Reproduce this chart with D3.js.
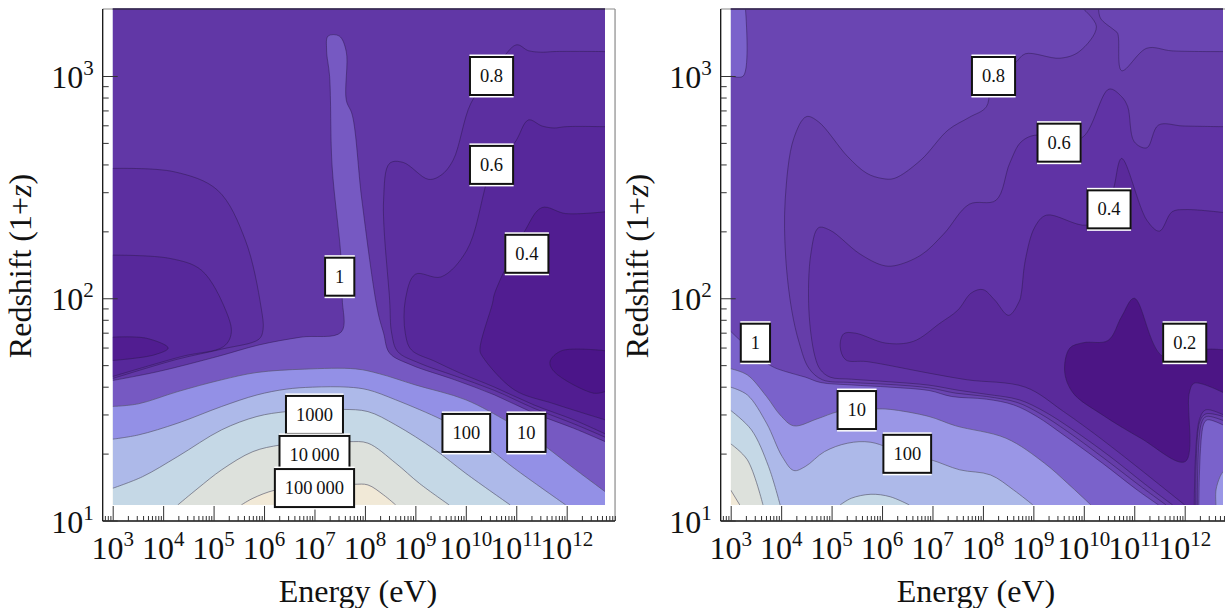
<!DOCTYPE html>
<html>
<head>
<meta charset="utf-8">
<script src="https://cdn.jsdelivr.net/npm/d3@7/dist/d3.min.js"></script>
<style>
html,body{margin:0;padding:0;background:#fff;overflow:hidden}
text{font-family:"Liberation Serif","Times New Roman",serif;fill:#111}
</style>
</head>
<body>
<script>
// All contour points are [log10 Energy(eV), log10 Redshift(1+z)].
// null = the next edge is filled but not stroked (it runs along the plot boundary).
const XMIN=3, XMAX=12.76, YMIN=1.07, YMAX=3.31;
const BR=[XMAX,YMIN], TR=[XMAX,YMAX], TL=[XMIN,YMAX], BL=[XMIN,YMIN];
const edge=(...p)=>p.flatMap(d=>[null,d,null]);

const majorX=[3,4,5,6,7,8,9,10,11,12];
const majorY=[1,2,3];
const levelNames=["100000","10000","1000","100","10","1","0.8","0.6","0.4","0.2"];

// ---------- left panel ----------
const leftBackground="#f1e9d7";
const leftColors=["#dde1dc","#c5d8e6","#adb9e9","#9390e6","#7659c2","#6137a6","#5c2fa0","#57289b","#511d91","#4b1589"];
const L1e5=[[5.55,1.07],[5.78,1.10],[6.22,1.137],[7.0,1.16],[7.78,1.163],[8.06,1.16],[8.37,1.115],[8.61,1.07],...edge(BR,TR,TL,BL)];
const L1e4=[[4.29,1.07],[4.69,1.145],[5.16,1.228],[5.78,1.31],[6.33,1.34],[7.04,1.355],[7.68,1.355],[8.06,1.348],[8.61,1.258],[9.08,1.167],[9.67,1.07],...edge(BR,TR,TL,BL)];
const L1e3=[[3,1.145],[3.59,1.197],[4.29,1.288],[5.16,1.408],[5.86,1.468],[6.44,1.49],[7.04,1.498],[7.56,1.50],[8.06,1.49],[8.61,1.43],[9.39,1.318],[10.0,1.212],[10.88,1.07],...edge(BR,TR,TL)];
const L100=[[3,1.366],[3.51,1.385],[4.29,1.438],[5.16,1.513],[5.86,1.565],[6.44,1.591],[6.96,1.60],[7.67,1.60],[8.06,1.588],[8.61,1.543],[9.53,1.453],[10.0,1.394],[10.49,1.318],[10.96,1.235],[11.98,1.07],...edge(BR,TR,TL)];
const L10=[[3,1.513],[3.51,1.525],[4.29,1.58],[5.16,1.633],[5.86,1.666],[6.80,1.681],[7.82,1.682],[8.29,1.66],[9.0,1.61],[10.0,1.543],[10.83,1.445],[11.21,1.394],[11.58,1.333],[12.14,1.235],[12.76,1.13],...edge(TR,TL)];
const L1=[[3,1.63],[3.90,1.67],[5.08,1.738],[5.90,1.79],[6.73,1.825],[7.53,1.848],[7.55,2.0],[7.525,2.186],[7.35,2.592],[7.30,2.997],[7.24,3.117],[7.27,3.18],[7.49,3.18],[7.63,3.11],[7.63,2.892],[7.75,2.824],[7.94,2.441],[8.25,1.946],[8.37,1.843],[8.49,1.753],[8.92,1.70],[9.78,1.633],[10.57,1.565],[11.35,1.483],[12.14,1.415],[12.76,1.355],...edge(TR,TL)];
const L08a=[[3,2.584],[4.22,2.569],[5.08,2.486],[5.63,2.261],[5.94,1.961],[5.98,1.858],[5.90,1.816],[5.16,1.771],[4.29,1.726],[3,1.639]];
const L08b=[[12.76,3.11],[11.75,3.11],[11.51,3.107],[11.24,3.114],[11.0,3.14],[10.49,2.997],[10.10,2.877],[9.75,2.622],[9.51,2.554],[9.26,2.535],[8.76,2.611],[8.49,2.607],[8.37,2.441],[8.49,1.991],[8.53,1.843],[8.65,1.76],[9.08,1.708],[9.78,1.651],[10.57,1.585],[11.35,1.505],[12.14,1.435],[12.76,1.375]];
const L06a=[[3,2.194],[4.14,2.179],[4.76,2.126],[5.24,1.946],[5.35,1.843],[5.20,1.783],[4.37,1.738],[3,1.648]];
const L06b=[[12.76,2.772],[11.98,2.772],[11.75,2.766],[11.51,2.775],[11.24,2.802],[10.96,2.697],[10.49,2.60],[10.37,2.486],[10.02,2.216],[9.51,2.096],[9.0,2.108],[8.80,1.991],[8.80,1.843],[8.92,1.768],[9.39,1.716],[9.86,1.666],[10.57,1.60],[11.35,1.52],[12.14,1.453],[12.76,1.39]];
const L04a=[[3,1.825],[3.67,1.82],[4.10,1.776],[3.82,1.745],[3,1.72]];
const L04b=[[12.76,2.389],[11.98,2.381],[11.51,2.408],[11.16,2.299],[10.57,2.021],[10.53,1.978],[10.28,1.768],[10.33,1.738],[10.96,1.588],[11.75,1.525],[12.76,1.453]];
const L02=[[12.76,1.764],[11.90,1.764],[11.67,1.715],[11.75,1.67],[12.53,1.573],[12.76,1.58]];
const leftLevels=[[L1e5],[L1e4],[L1e3],[L100],[L10],[L1],[L08a,L08b],[L06a,L06b],[L04a,L04b],[L02]];
const leftLabelText=["0.8","0.6","0.4","1","100","10","1000","10\u2009000","100\u2009000"];
const leftLabelE=[10.51,10.51,11.21,7.5,10.01,11.2,7.0,7.0,7.0];
const leftLabelZ=[3.0,2.6,2.2,2.097,1.394,1.394,1.475,1.295,1.146];

// ---------- right panel ----------
const rightBackground="#f1e9d7";
const rightColors=["#dde1dc","#c5d8e6","#adb9e9","#9a96e6","#7a62cb","#6a45b2","#653da9","#6033a5","#5a2a9b","#4c1585"];
const R1e5=[[3,1.137],[3.18,1.07],...edge(BR,TR,TL)];
const R1e4=[[3,1.345],[3.33,1.273],[3.64,1.07],...edge(BR,TR,TL)];
const R1e3=[[3,1.495],[3.41,1.408],[3.75,1.243],[3.98,1.07],null,[5.17,1.07],[5.39,1.10],[5.78,1.118],[6.16,1.107],[6.54,1.07],...edge(BR,TR,TL)];
const R100=[[3,1.60],[3.33,1.565],[3.71,1.438],[4.02,1.288],[4.25,1.225],[4.48,1.243],[4.86,1.31],[5.32,1.348],[5.78,1.352],[6.50,1.295],[6.97,1.273],[7.54,1.228],[8.15,1.205],[8.61,1.137],[8.99,1.07],...edge(BR,TR,TL)];
const R10=[[3,1.683],[3.33,1.655],[3.71,1.558],[3.98,1.475],[4.25,1.426],[4.71,1.457],[5.13,1.49],[5.49,1.498],[5.87,1.502],[6.16,1.50],[6.93,1.468],[7.46,1.426],[8.46,1.37],[9.22,1.258],[9.68,1.167],[10.14,1.07],null,[12.62,1.07],[12.62,1.137],[12.70,1.197],[12.76,1.22],...edge(TR,TL)];
const R1=[[3,1.851],[3.21,1.806],[3.79,1.697],[4.09,1.67],[4.48,1.645],[4.78,1.621],[5.39,1.61],[6.16,1.60],[6.93,1.585],[7.38,1.558],[8.07,1.546],[8.61,1.52],[9.07,1.468],[9.60,1.385],[10.37,1.258],[11.06,1.137],[11.48,1.07],null,[12.28,1.07],[12.37,1.43],[12.45,1.453],[12.76,1.43],...edge(TR),[3.29,YMAX],[3.25,3.0],[3,3.0]];
const R08=[[12.76,3.11],[11.75,3.113],[11.25,3.125],[10.75,3.024],[10.67,3.192],[10.60,3.207],[10.33,3.26],[10.29,YMAX],null,[9.95,YMAX],[10.25,3.222],[9.91,3.11],[9.53,3.08],[8.84,3.10],[8.63,3.057],[8.19,3.0],[8.07,2.862],[7.73,2.814],[7.31,2.757],[6.77,2.622],[6.24,2.539],[6.0,2.539],[5.70,2.562],[5.32,2.637],[4.74,2.794],[4.50,2.817],[4.25,2.719],[4.08,2.441],[4.09,2.186],[4.21,1.946],[4.36,1.798],[4.55,1.685],[4.82,1.633],[5.39,1.621],[6.16,1.612],[6.93,1.597],[7.46,1.573],[8.07,1.558],[8.68,1.531],[9.14,1.48],[9.68,1.40],[10.44,1.273],[11.13,1.153],[11.63,1.07],null,[12.25,1.07],[12.33,1.438],[12.43,1.468],[12.76,1.45]];
const R06=[[12.76,2.772],[11.97,2.775],[11.48,2.779],[11.25,2.677],[11.0,2.704],[10.87,2.862],[10.75,2.907],[10.50,2.941],[9.99,2.727],[9.49,2.697],[9.07,2.734],[8.76,2.704],[8.53,2.607],[8.26,2.441],[7.73,2.423],[7.23,2.291],[6.77,2.194],[6.24,2.146],[6.0,2.149],[5.55,2.201],[4.97,2.306],[4.74,2.317],[4.59,2.201],[4.55,1.946],[4.67,1.738],[4.78,1.678],[4.97,1.645],[5.39,1.636],[6.16,1.624],[6.93,1.609],[7.54,1.585],[8.07,1.568],[8.72,1.543],[9.22,1.49],[9.76,1.412],[10.52,1.288],[11.21,1.164],[11.76,1.07],null,[12.22,1.07],[12.30,1.445],[12.42,1.48],[12.76,1.468]];
const R04=[[12.76,2.386],[12.01,2.399],[11.75,2.389],[11.50,2.302],[11.25,2.351],[10.75,2.629],[10.60,2.502],[10.48,2.396],[10.06,2.329],[9.26,2.374],[9.03,2.321],[8.84,2.171],[8.76,2.021],[8.72,1.986],[8.51,1.923],[8.23,1.993],[8.0,2.039],[7.77,2.024],[7.50,1.946],[7.15,1.888],[6.62,1.806],[6.08,1.798],[5.47,1.843],[5.24,1.84],[5.17,1.783],[5.28,1.723],[5.70,1.715],[6.93,1.663],[7.69,1.633],[8.84,1.60],[9.60,1.49],[10.37,1.363],[11.13,1.228],[12.0,1.07],null,[12.19,1.07],[12.29,1.453],[12.42,1.498],[12.76,1.476]];
const R02=[[12.76,1.768],[12.43,1.771],[11.57,1.738],[11.0,2.0],[10.75,1.918],[10.48,1.81],[9.99,1.80],[9.72,1.775],[9.62,1.67],[9.79,1.573],[10.37,1.475],[11.13,1.37],[12.01,1.265],[12.09,1.573],[12.19,1.618],[12.76,1.576]];
const rightLevels=[[R1e5],[R1e4],[R1e3],[R100],[R10],[R1],[R08],[R06],[R04],[R02]];
const rightLabelText=["0.8","0.6","0.4","1","10","100","0.2"];
const rightLabelE=[8.21,9.51,10.5,3.49,5.5,6.5,12.0];
const rightLabelZ=[3.0,2.7,2.4,1.8,1.497,1.30,1.8];

// ---------- drawing ----------
const svg=d3.select("body").append("svg").attr("width",1225).attr("height",608).style("display","block");

function panel(o){
  const x=d3.scaleLog().domain([1e3,1e12]).range(o.xRange);
  const y=d3.scaleLog().domain([10,1000]).range([520.5,76]);
  const px=p=>x(Math.pow(10,p[0])), py=p=>y(Math.pow(10,p[1]));
  const g=svg.append("g");
  const clipId="clip"+o.id;
  const L=px([XMIN]),R=px([XMAX]),T=9,B=py([0,YMIN]);
  g.append("clipPath").attr("id",clipId).append("rect").attr("x",L).attr("y",T).attr("width",R-L).attr("height",B-T);
  const plot=g.append("g").attr("clip-path",`url(#${clipId})`);
  plot.append("rect").attr("x",L).attr("y",T).attr("width",R-L).attr("height",B-T).attr("fill",o.background);
  const curve=d3.line().curve(d3.curveCatmullRom.alpha(0.5)).x(px).y(py);
  const runs=pts=>{
    const out=[];let cur=[];
    pts.forEach(p=>{ if(p===null){ if(cur.length) out.push(cur); cur=[]; } else cur.push(p); });
    if(cur.length) out.push(cur);
    return out;
  };
  const fillPath=pts=>runs(pts).map((r,i)=>{
    const d=curve(r).replace(/Z$/,"");
    return i?("L"+d.slice(1)):d;
  }).join("")+"Z";
  const strokePath=pts=>runs(pts).filter(r=>r.length>1).map(r=>curve(r)).join("");
  o.levels.forEach((paths,i)=>{
    paths.forEach(pts=>plot.append("path").attr("d",fillPath(pts)).attr("fill",o.colors[i]));
  });
  o.levels.forEach((paths,i)=>{
    paths.forEach(pts=>plot.append("path").attr("d",strokePath(pts)).attr("fill","none")
      .attr("stroke",i<5?"#55556a":"#2c1a4c").attr("stroke-opacity",i<5?0.8:0.6).attr("stroke-width",0.8));
  });

  // frame
  const fL=o.xRange[0]-10, fR=R+10, fT=9, fB=521;
  g.append("line").attr("x1",fL).attr("x2",fR).attr("y1",fT).attr("y2",fT).attr("stroke","#8a8a8a").attr("stroke-width",1.2);
  g.append("line").attr("x1",L).attr("x2",R).attr("y1",fT).attr("y2",fT).attr("stroke","#2a1a4a").attr("stroke-width",1.4);
  g.append("line").attr("x1",fR).attr("x2",fR).attr("y1",fT).attr("y2",fB).attr("stroke","#8a8a8a").attr("stroke-width",1.2);
  g.append("line").attr("x1",fL).attr("x2",fL).attr("y1",fT).attr("y2",fB).attr("stroke","#111").attr("stroke-width",1.3);
  g.append("line").attr("x1",fL).attr("x2",fR).attr("y1",fB).attr("y2",fB).attr("stroke","#111").attr("stroke-width",1.3);

  // axes: log ticks through d3.axis
  const mult=[2,3,4,5,6,7,8,9];
  const minorX=d3.range(2,13).flatMap(d=>mult.map(m=>m*Math.pow(10,d))).filter(v=>x(v)>fL+0.5&&x(v)<fR);
  const minorY=d3.range(1,4).flatMap(d=>mult.map(m=>m*Math.pow(10,d))).filter(v=>y(v)>fT+1);
  const styleAxis=s=>{s.select(".domain").remove();s.selectAll("text").remove();s.selectAll("line").attr("stroke","#333").attr("stroke-width",1);};
  g.append("g").attr("transform",`translate(0,${fB})`).call(d3.axisBottom(x).tickValues(minorX).tickSize(-5)).call(styleAxis);
  g.append("g").attr("transform",`translate(0,${fB})`).call(d3.axisBottom(x).tickValues(majorX.map(d=>Math.pow(10,d))).tickSize(-15)).call(styleAxis);
  g.append("g").attr("transform",`translate(${fL},0)`).call(d3.axisLeft(y).tickValues(minorY).tickSize(-6)).call(styleAxis);
  g.append("g").attr("transform",`translate(${fL},0)`).call(d3.axisLeft(y).tickValues(majorY.map(d=>Math.pow(10,d))).tickSize(-15)).call(styleAxis);

  // tick labels
  majorX.forEach(d=>{
    const t=g.append("text").attr("x",px([d])).attr("y",558.5).attr("text-anchor","middle").attr("font-size",32);
    t.append("tspan").text("10");
    t.append("tspan").attr("font-size",21).attr("dy",-13).text(d);
  });
  majorY.forEach(d=>{
    const t=g.append("text").attr("x",fL-9).attr("y",py([0,d])+12).attr("text-anchor","end").attr("font-size",32);
    t.append("tspan").text("10");
    t.append("tspan").attr("font-size",21).attr("dy",-13).text(d);
  });
  // axis titles
  g.append("text").attr("x",o.xTitle).attr("y",602).attr("text-anchor","middle").attr("font-size",32).text("Energy (eV)");
  const yt=g.append("text").attr("transform",`translate(${o.yTitle},266) rotate(-90)`).attr("text-anchor","middle").attr("font-size",32);
  yt.append("tspan").text("Redshift (1+");
  yt.append("tspan").attr("font-style","italic").text("z");
  yt.append("tspan").text(")");

  // contour labels
  o.labelText.forEach((s,i)=>{
    const cx=px([o.labelE[i]]),cy=py([0,o.labelZ[i]]);
    const lg=g.append("g");
    const txt=lg.append("text").attr("x",cx).attr("y",cy+6).attr("text-anchor","middle").attr("font-size",18.5).text(s);
    const w=txt.node().getComputedTextLength()+20,h=38;
    lg.insert("rect","text").attr("x",cx-w/2-0.5).attr("y",cy-h/2-2.5).attr("width",w+1).attr("height",h+5).attr("fill","#fff");
    lg.insert("rect","text").attr("x",cx-w/2).attr("y",cy-h/2).attr("width",w).attr("height",h).attr("fill","#fff").attr("stroke","#111").attr("stroke-width",2);
  });
}

panel({id:"L",xRange:[112.7,566.7],background:leftBackground,colors:leftColors,levels:leftLevels,
  labelText:leftLabelText,labelE:leftLabelE,labelZ:leftLabelZ,xTitle:358,yTitle:31});
panel({id:"R",xRange:[730.7,1184.7],background:rightBackground,colors:rightColors,levels:rightLevels,
  labelText:rightLabelText,labelE:rightLabelE,labelZ:rightLabelZ,xTitle:976,yTitle:648});
</script>
</body>
</html>
